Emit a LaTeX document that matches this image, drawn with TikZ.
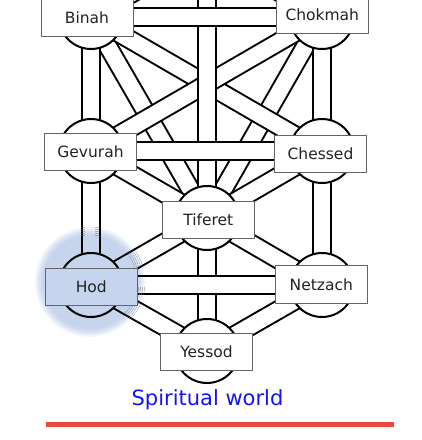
\documentclass[tikz,border=0pt]{standalone}
\usepackage{fontspec}
\setmainfont{DejaVu Sans}
\definecolor{ink}{RGB}{0,0,0}
\definecolor{paper}{RGB}{255,255,255}
\definecolor{hodblue}{RGB}{66,114,196}
\definecolor{worldblue}{RGB}{20,20,245}
\definecolor{lineRed}{RGB}{232,74,66}
\definecolor{boxgray}{RGB}{100,100,100}
\definecolor{textgray}{RGB}{34,34,34}

\tikzset{
  channel/.style={line width=2pt, draw=ink, double=paper, double distance=16pt},
  sefira/.style={circle, draw=ink, line width=2pt, fill=paper, minimum size=64pt, inner sep=0pt},
  namebox/.style={draw=boxgray, line width=1pt, fill=paper, text=textgray,
    minimum width=92pt, minimum height=37.5pt, inner sep=0pt,
    font=\fontsize{15.5}{18}\selectfont},
}

\begin{document}
\begin{tikzpicture}[x=1pt,y=-1pt,line join=round]
\useasboundingbox (0,0) rectangle (422,440);
\clip (0,0) rectangle (422,440);

% ===== Centres of the sefirot (Kether lies above the page) =====
\coordinate (ket) at (207,-50);
\coordinate (bin) at (91,17);
\coordinate (cho) at (322,17);
\coordinate (gev) at (91,151);
\coordinate (che) at (322,151);
\coordinate (tif) at (207,218);
\coordinate (hod) at (91,285);
\coordinate (net) at (322,285);
\coordinate (yes) at (207,351);

% ===== Channels, back to front (later ones cross over) =====
\foreach \a/\b in {ket/bin, ket/cho, bin/tif, cho/tif, gev/tif, che/tif,
                   bin/che, cho/gev, tif/hod, tif/net, hod/yes, net/yes,
                   bin/gev, gev/hod, cho/che, che/net, ket/tif, tif/yes,
                   bin/cho, gev/che, hod/net}
  \draw[channel] (\a) -- (\b);

% ===== Circles =====
\foreach \s in {bin,cho,gev,che,tif,net,yes}
  \node[sefira] (\s-ring) at (\s) {};

% ===== Name boxes =====
\node[namebox] (binah)   at (87,17.3)    {Binah};
\node[namebox] (chokmah) at (322.3,14.6) {Chokmah};
\node[namebox] (gevurah) at (90.5,152)   {Gevurah};
\node[namebox] (chessed) at (320.5,153.8) {Chessed};
\node[namebox] (tiferet) at (208.3,220)  {Tiferet};
\node[namebox] (netzach) at (321.3,284.7) {Netzach};
\node[namebox] (yessod)  at (206.5,352)  {Yessod};

% ----- soft blue glow round Hod: rings redrawn in lighter tints -----
\foreach \r/\k in {55/7, 53/14, 51/21, 49/27, 47/30} {
  \begin{scope}
    \clip (90,282) circle (\r pt);
    \fill[hodblue!\k!paper] (90,282) circle (\r pt);
    \foreach \a/\b in {tif/hod, hod/yes, gev/hod, hod/net}
      \draw[channel, double=hodblue!\k!paper] (\a) -- (\b);
    \node[sefira, fill=hodblue!\k!paper] (hod-ring-\r) at (hod) {};
  \end{scope}
}
\node[namebox, fill=hodblue!30!paper] (hodbox) at (91.3,287) {Hod};

% ===== Caption and rule =====
\node[anchor=base, text=worldblue, inner sep=0pt,
  font=\fontsize{21}{25}\selectfont] (world) at (207.5,405) {Spiritual world};
\draw[lineRed, line width=4.5pt] (46,424.5) -- (394,424.5);

\end{tikzpicture}
\end{document}
